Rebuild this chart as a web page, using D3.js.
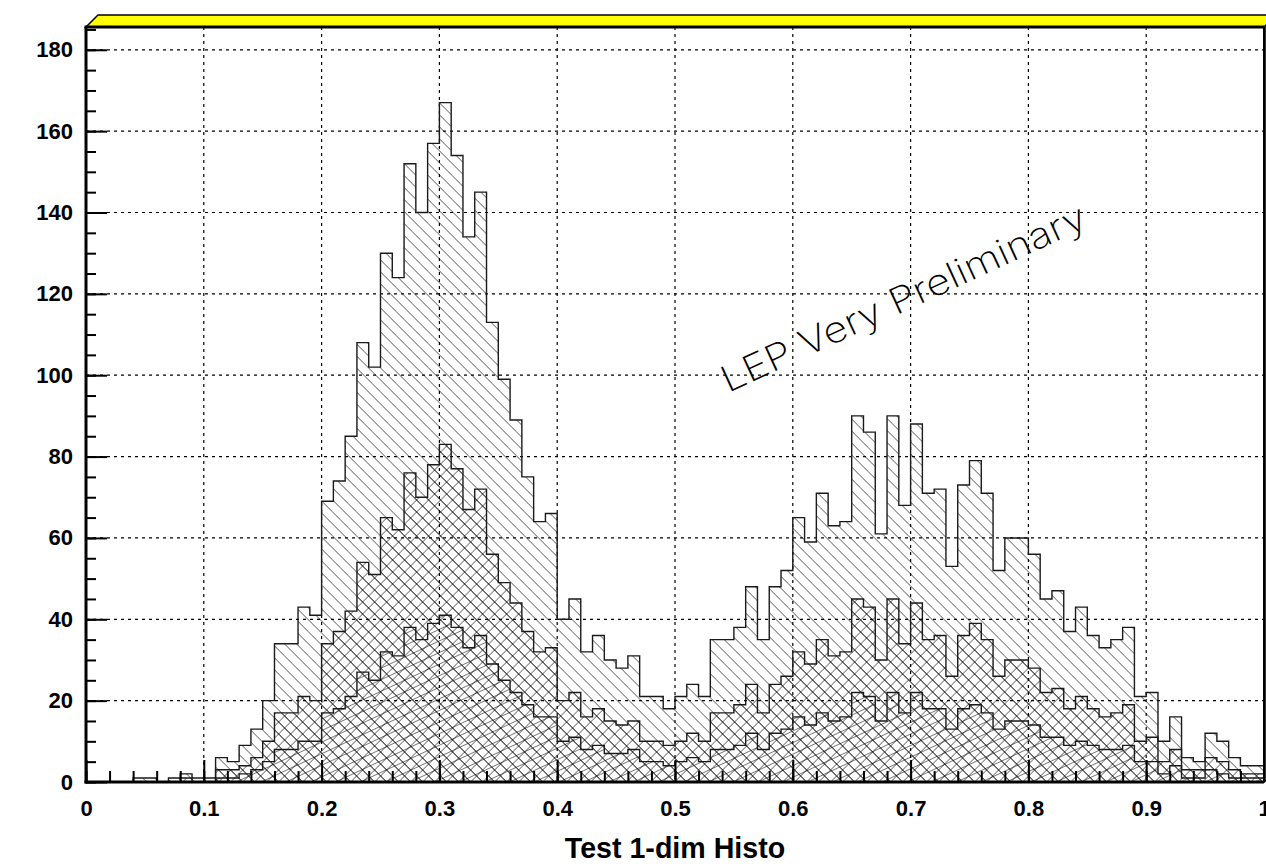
<!DOCTYPE html>
<html>
<head>
<meta charset="utf-8">
<script src="https://cdn.jsdelivr.net/npm/d3@7/dist/d3.min.js"></script>
<style>
  body { margin: 0; background: #fff; }
  svg { display: block; }
</style>
</head>
<body>
<svg id="chart"></svg>
<script>
// Canvas size
const width = 1266;
const height = 864;

// Binning of the histograms
const nBins = 100;
const xMin = 0;
const xMax = 1;
const yMax = 185.6;

// Bin contents
const mainCounts = [
  0, 0, 0, 0, 1, 1, 0, 1, 2, 1,
  1, 6, 5, 9, 13, 20, 34, 34, 43, 41,
  69, 74, 85, 108, 102, 130, 124, 152, 140, 157,
  167, 154, 134, 145, 113, 99, 89, 75, 64, 66,
  40, 45, 32, 36, 30, 28, 31, 21, 21, 18,
  21, 24, 21, 35, 35, 38, 48, 35, 48, 52,
  65, 59, 71, 63, 64, 90, 86, 61, 90, 68,
  88, 71, 72, 53, 73, 79, 71, 52, 60, 60,
  56, 45, 47, 37, 43, 36, 33, 35, 38, 21,
  22, 10, 16, 6, 5, 12, 10, 6, 4, 4
];
const midCounts = [
  0, 0, 0, 0, 0, 0, 0, 0, 1, 0,
  0, 3, 3, 4, 6, 10, 17, 17, 21, 20,
  34, 37, 42, 54, 51, 65, 62, 76, 70, 78,
  83, 77, 67, 72, 56, 49, 44, 37, 32, 33,
  20, 22, 16, 18, 15, 14, 15, 10, 10, 9,
  10, 12, 10, 17, 17, 19, 24, 17, 24, 26,
  32, 29, 35, 31, 32, 45, 43, 30, 45, 34,
  44, 35, 36, 26, 36, 39, 35, 26, 30, 30,
  28, 22, 23, 18, 21, 18, 16, 17, 19, 10,
  11, 5, 8, 3, 3, 6, 5, 3, 2, 2
];
const lowCounts = [
  0, 0, 0, 0, 0, 0, 0, 0, 0, 0,
  0, 1, 1, 2, 3, 5, 8, 8, 10, 10,
  17, 18, 21, 27, 25, 32, 31, 38, 35, 39,
  41, 38, 33, 36, 29, 25, 22, 19, 16, 16,
  10, 11, 8, 9, 7, 7, 8, 5, 5, 4,
  5, 6, 5, 8, 8, 9, 12, 8, 12, 13,
  16, 14, 17, 15, 16, 22, 21, 15, 22, 17,
  22, 18, 18, 13, 18, 19, 17, 13, 15, 15,
  14, 11, 11, 9, 10, 9, 8, 8, 9, 5,
  5, 2, 4, 1, 1, 3, 2, 1, 1, 1
];

// Axis ticks and labels
const xTicks = [0, 0.1, 0.2, 0.3, 0.4, 0.5, 0.6, 0.7, 0.8, 0.9, 1];
const xLabels = ["0", "0.1", "0.2", "0.3", "0.4", "0.5", "0.6", "0.7", "0.8", "0.9", "1"];
const yTicks = [0, 20, 40, 60, 80, 100, 120, 140, 160, 180];
const title = "Test 1-dim Histo";
const stamp = "LEP Very Preliminary";

// Frame geometry
const frameL = 86, frameR = 1264, frameT = 27, frameB = 782;
const bevel = 12;

const x = d3.scaleLinear().domain([xMin, xMax]).range([frameL, frameR]);
const y = d3.scaleLinear().domain([0, yMax]).range([frameB, frameT]);

const svg = d3.select("#chart")
  .attr("width", width)
  .attr("height", height)
  .attr("viewBox", `0 0 ${width} ${height}`);

// Hatch patterns
const defs = svg.append("defs");

function hatch(id, spacing, angle, lines) {
  const p = defs.append("pattern")
    .attr("id", id)
    .attr("patternUnits", "userSpaceOnUse")
    .attr("width", spacing)
    .attr("height", spacing)
    .attr("patternTransform", `translate(${frameL},${frameB}) rotate(${angle})`);
  lines.forEach(l => {
    p.append("line")
      .attr("x1", l[0] * spacing).attr("y1", l[1] * spacing)
      .attr("x2", l[2] * spacing).attr("y2", l[3] * spacing)
      .attr("stroke", "#000")
      .attr("stroke-width", 1);
  });
}
// "\\" lines
hatch("hatchMain", 12 / Math.SQRT2, -45, [[0, 0, 0, 1]]);
// cross hatch
hatch("hatchMid", 12 / Math.SQRT2, -45, [[0, 0, 0, 1], [0, 0, 1, 0]]);
// shallow "/" lines
hatch("hatchLow", 10.5, -25, [[0, 0, 1, 0]]);

// Grid
const grid = svg.append("g")
  .attr("stroke", "#000")
  .attr("stroke-width", 1.2)
  .attr("stroke-dasharray", "3,4");

grid.selectAll(".gx")
  .data(xTicks.slice(1, -1))
  .enter().append("line")
  .attr("x1", d => x(d)).attr("x2", d => x(d))
  .attr("y1", frameT).attr("y2", frameB);

grid.selectAll(".gy")
  .data(yTicks.slice(1))
  .enter().append("line")
  .attr("x1", frameL).attr("x2", frameR)
  .attr("y1", d => y(d)).attr("y2", d => y(d));

// Histograms
const edges = d3.range(nBins + 1).map(i => xMin + (xMax - xMin) * i / nBins);

function stepPoints(counts) {
  const pts = [[edges[0], 0]];
  counts.forEach((c, i) => {
    pts.push([edges[i], c], [edges[i + 1], c]);
  });
  pts.push([edges[nBins], 0]);
  return pts;
}

const line = d3.line()
  .x(d => x(d[0]))
  .y(d => y(d[1]));

const hists = [
  { counts: mainCounts, fill: "url(#hatchMain)" },
  { counts: midCounts, fill: "url(#hatchMid)" },
  { counts: lowCounts, fill: "url(#hatchLow)" }
];

svg.selectAll(".hist")
  .data(hists)
  .enter().append("path")
  .attr("class", "hist")
  .attr("d", d => line(stepPoints(d.counts)) + "Z")
  .attr("fill", d => d.fill)
  .attr("stroke", "#1a1a1a")
  .attr("stroke-width", 1.4);

// Axes with ROOT style ticks pointing inwards
svg.append("g")
  .attr("transform", `translate(0,${frameB})`)
  .call(d3.axisBottom(x)
    .tickValues(xTicks)
    .tickFormat((d, i) => xLabels[i])
    .tickSize(-22)
    .tickPadding(18));

svg.append("g")
  .attr("transform", `translate(0,${frameB})`)
  .call(d3.axisBottom(x)
    .tickValues(d3.range(0, 51).map(i => i / 50))
    .tickFormat("")
    .tickSize(-11));

svg.append("g")
  .attr("transform", `translate(${frameL},0)`)
  .call(d3.axisLeft(y)
    .tickValues(yTicks)
    .tickSize(-21)
    .tickPadding(13));

svg.append("g")
  .attr("transform", `translate(${frameL},0)`)
  .call(d3.axisLeft(y)
    .tickValues(d3.range(0, 186, 5))
    .tickFormat("")
    .tickSize(-10));

svg.selectAll(".domain").remove();
svg.selectAll(".tick line").attr("stroke", "#000").attr("stroke-width", 2);
svg.selectAll(".tick text")
  .attr("fill", "#000")
  .style("font-family", "'Liberation Sans', Arial, sans-serif")
  .style("font-weight", "bold")
  .style("font-size", "22px");

// Frame: 3D bevels and border
svg.append("polygon")
  .attr("points", [[frameL, frameT], [frameL + bevel, frameT - bevel], [frameR + bevel, frameT - bevel], [frameR, frameT]].join(" "))
  .attr("fill", "#ffff00")
  .attr("stroke", "#000")
  .attr("stroke-width", 1.5);

svg.append("polygon")
  .attr("points", [[frameR, frameT], [frameR + bevel, frameT - bevel], [frameR + bevel, frameB - bevel], [frameR, frameB]].join(" "))
  .attr("fill", "#333")
  .attr("stroke", "#000")
  .attr("stroke-width", 1);

svg.append("line").attr("x1", frameL - 1.5).attr("x2", frameR).attr("y1", frameT).attr("y2", frameT)
  .attr("stroke", "#000").attr("stroke-width", 3);
svg.append("line").attr("x1", frameL).attr("x2", frameL).attr("y1", frameT).attr("y2", frameB + 1.5)
  .attr("stroke", "#000").attr("stroke-width", 3);
svg.append("line").attr("x1", frameL - 1.5).attr("x2", frameR).attr("y1", frameB).attr("y2", frameB)
  .attr("stroke", "#000").attr("stroke-width", 3);
svg.append("line").attr("x1", frameR).attr("x2", frameR).attr("y1", frameT).attr("y2", frameB)
  .attr("stroke", "#000").attr("stroke-width", 2);

// Title under the x axis
svg.append("text")
  .attr("x", x(0.5))
  .attr("y", 858)
  .attr("text-anchor", "middle")
  .style("font-family", "'Liberation Sans', Arial, sans-serif")
  .style("font-weight", "bold")
  .style("font-size", "28.6px")
  .text(title);

// Rotated stamp
svg.append("text")
  .attr("transform", "translate(728,393) rotate(-24.8)")
  .attr("textLength", 398)
  .attr("lengthAdjust", "spacingAndGlyphs")
  .style("font-family", "Inter, 'DejaVu Sans', sans-serif")
  .style("font-weight", "200")
  .style("font-size", "36px")
  .text(stamp);
</script>
</body>
</html>
